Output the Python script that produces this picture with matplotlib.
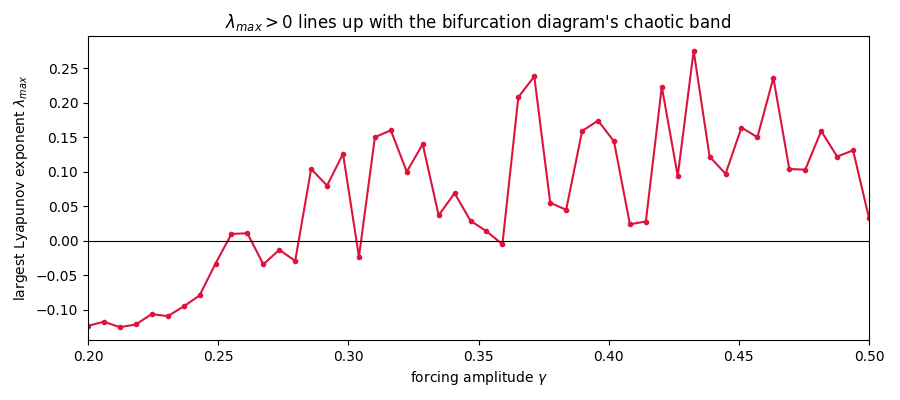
import numpy as np
import matplotlib
matplotlib.use("Agg")
import matplotlib.pyplot as plt

gamma = np.linspace(0.2, 0.5, 50)
lam = [-0.123, -0.117, -0.125, -0.121, -0.106, -0.109, -0.095, -0.079, -0.033, 0.010,
       0.011, -0.034, -0.013, -0.029, 0.104, 0.080, 0.126, -0.023, 0.150, 0.160,
       0.100, 0.140, 0.037, 0.069, 0.029, 0.014, -0.005, 0.208, 0.238, 0.055,
       0.045, 0.159, 0.174, 0.144, 0.024, 0.028, 0.223, 0.094, 0.275, 0.122,
       0.097, 0.164, 0.150, 0.236, 0.104, 0.103, 0.159, 0.122, 0.131, 0.033]

fig = plt.figure(figsize=(9, 4), dpi=100)
ax = fig.add_axes([88/900, 60/400, 781/900, 304/400])
ax.plot(gamma, lam, color="crimson", marker="o", markersize=3, linewidth=1.5)
ax.axhline(0, color="black", linewidth=0.8)
ax.set_xlim(0.2, 0.5)
ax.set_ylim(-0.1435, 0.2965)
ax.set_xlabel(r"forcing amplitude $\gamma$")
ax.set_ylabel(r"largest Lyapunov exponent $\lambda_{max}$")
ax.set_title(r"$\lambda_{max} > 0$ lines up with the bifurcation diagram's chaotic band")
fig.savefig("out.png")
